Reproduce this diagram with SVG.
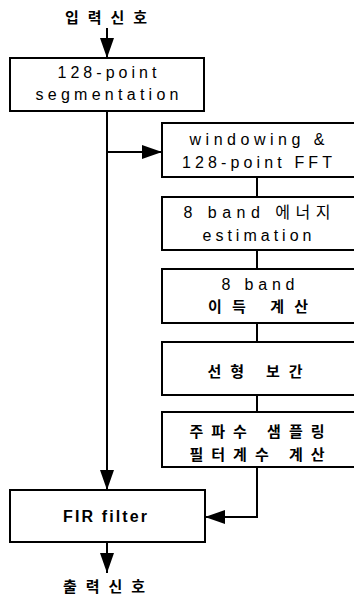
<svg xmlns="http://www.w3.org/2000/svg" width="354" height="595" viewBox="0 0 354 595">
<style>
.box{fill:#fff;stroke:#000;stroke-width:2}
.ln{fill:none;stroke:#000;stroke-width:2}
text{font-family:"Liberation Sans","Noto Sans CJK KR",sans-serif;font-size:16px;text-anchor:middle;fill:#000}
.k{font-size:15px;font-weight:bold}
.b{font-weight:bold}
</style>
<defs>
<marker id="ah" viewBox="0 0 20 14" refX="20" refY="7" markerWidth="20" markerHeight="14" markerUnits="userSpaceOnUse" orient="auto">
<path d="M0,0 L20,7 L0,14 z" fill="#000"/>
</marker>
</defs>
<rect width="354" height="595" fill="#fff"/>
<g id="connectors">
<path class="ln" d="M107,28 V58" marker-end="url(#ah)"/>
<path class="ln" d="M107,111 V490" marker-end="url(#ah)"/>
<path class="ln" d="M107,152 H162" marker-end="url(#ah)"/>
<path class="ln" d="M257,177 V197"/>
<path class="ln" d="M257,250 V269"/>
<path class="ln" d="M257,323 V342"/>
<path class="ln" d="M257,395 V412"/>
<path class="ln" d="M257,467 V517 H205" marker-end="url(#ah)"/>
<path class="ln" d="M107,542 V573" marker-end="url(#ah)"/>
</g>
<g id="input"><text class="k" x="106" y="23" textLength="82" lengthAdjust="spacing">입력신호</text></g>
<g id="segmentation">
<rect class="box" x="10" y="58" width="194" height="53"/>
<text x="107" y="78" textLength="99" lengthAdjust="spacing">128-point</text>
<text x="107" y="100" textLength="143" lengthAdjust="spacing">segmentation</text>
</g>
<g id="fft">
<rect class="box" x="162" y="123" width="200" height="54"/>
<text x="257" y="145" textLength="135" lengthAdjust="spacing">windowing &amp;</text>
<text x="257" y="168" textLength="150" lengthAdjust="spacing">128-point FFT</text>
</g>
<g id="energy">
<rect class="box" x="162" y="197" width="200" height="53"/>
<text x="257" y="218" textLength="147" lengthAdjust="spacing">8 band 에너지</text>
<text x="257" y="241" textLength="109" lengthAdjust="spacing">estimation</text>
</g>
<g id="gain">
<rect class="box" x="162" y="269" width="200" height="54"/>
<text x="258" y="290" textLength="73" lengthAdjust="spacing">8 band</text>
<text class="k" x="258" y="312" textLength="100" lengthAdjust="spacing">이득  계산</text>
</g>
<g id="interp">
<rect class="box" x="162" y="342" width="200" height="53"/>
<text class="k" x="255" y="377" textLength="95" lengthAdjust="spacing">선형 보간</text>
</g>
<g id="coef">
<rect class="box" x="162" y="412" width="200" height="55"/>
<text class="k" x="257" y="437" textLength="135" lengthAdjust="spacing">주파수 샘플링</text>
<text class="k" x="257" y="460" textLength="135" lengthAdjust="spacing">필터계수 계산</text>
</g>
<g id="fir">
<rect class="box" x="10" y="490" width="195" height="52"/>
<text class="b" x="105" y="522" textLength="84" lengthAdjust="spacing">FIR filter</text>
</g>
<g id="output"><text class="k" x="104" y="592" textLength="82" lengthAdjust="spacing">출력신호</text></g>
</svg>
